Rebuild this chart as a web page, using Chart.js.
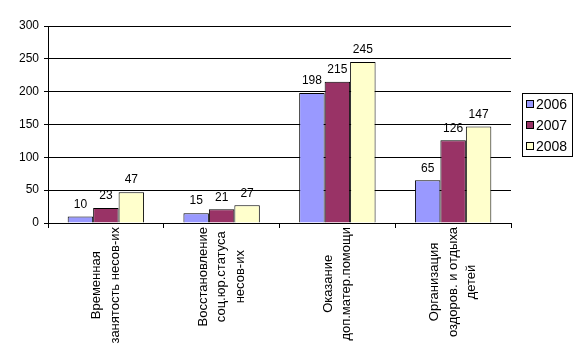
<!DOCTYPE html>
<html><head><meta charset="utf-8">
<script src="https://cdn.jsdelivr.net/npm/chart.js@4/dist/chart.umd.min.js"></script>
<style>html,body{margin:0;padding:0;background:#fff}#w{width:580px;height:362px}</style>
</head><body><div id="w"><canvas id="c" width="580" height="362"></canvas></div>
<script>
const categories = [
  ["Временная", "занятость несов-их"],
  ["Восстановление", "соц.юр.статуса", "несов-их"],
  ["Оказание", "доп.матер.помощи"],
  ["Организация", "оздоров. и отдыха", "детей"]
];
const seriesNames = ["2006", "2007", "2008"];
const values2006 = [10, 15, 198, 65];
const values2007 = [23, 21, 215, 126];
const values2008 = [47, 27, 245, 147];
const yTicks = [0, 50, 100, 150, 200, 250, 300];
const colors = ["#9999FF", "#993366", "#FFFFCC"];
const FAM = '"Liberation Sans", Arial, sans-serif';

const labelPlugin = {
  id: 'custom',
  afterDatasetsDraw(chart) {
    const ctx = chart.ctx;
    ctx.save();
    ctx.fillStyle = '#000';
    // value labels
    ctx.font = '12px ' + FAM;
    chart.data.datasets.forEach((ds, i) => {
      const meta = chart.getDatasetMeta(i);
      meta.data.forEach((bar, j) => {
        ctx.textAlign = 'center';
        ctx.textBaseline = 'bottom';
        ctx.fillText(String(ds.data[j]), bar.x, bar.y - 6);
      });
    });
    // category labels (rotated, centered lines)
    ctx.font = '13px ' + FAM;
    const xs = chart.scales.x;
    const axisY = chart.chartArea.bottom;
    const lh = 18.5;
    categories.forEach((lines, j) => {
      const cx = xs.getPixelForValue(j);
      let maxW = 0;
      lines.forEach(l => { maxW = Math.max(maxW, ctx.measureText(l).width); });
      const cy = axisY + 4 + maxW / 2;
      lines.forEach((l, k) => {
        const lx = cx + (k - (lines.length - 1) / 2) * lh;
        ctx.save();
        ctx.translate(lx, cy);
        ctx.rotate(-Math.PI / 2);
        ctx.textAlign = 'center';
        ctx.textBaseline = 'middle';
        ctx.fillText(l, 0, 0);
        ctx.restore();
      });
    });
    // legend
    ctx.font = '14px ' + FAM;
    const lx0 = 522, ly0 = 93, lw = 50, lhgt = 63;
    ctx.strokeStyle = '#000';
    ctx.lineWidth = 1;
    ctx.strokeRect(lx0 + 0.5, ly0 + 0.5, lw, lhgt);
    seriesNames.forEach((n, i) => {
      const cyy = ly0 + 11 + i * 21;
      ctx.fillStyle = colors[i];
      ctx.fillRect(526.5, cyy - 3.5, 7, 7);
      ctx.strokeStyle = '#000';
      ctx.strokeRect(526.5, cyy - 3.5, 7, 7);
      ctx.fillStyle = '#000';
      ctx.textAlign = 'left';
      ctx.textBaseline = 'middle';
      ctx.fillText(n, 536, cyy + 1);
    });
    ctx.restore();
  }
};

new Chart(document.getElementById('c'), {
  type: 'bar',
  data: {
    labels: categories.map(c => c.join(' ')),
    datasets: [values2006, values2007, values2008].map((d, i) => ({
      label: seriesNames[i],
      data: d,
      backgroundColor: colors[i],
      borderColor: '#000',
      borderWidth: 1,
      categoryPercentage: 0.66,
      barPercentage: 1.0
    }))
  },
  options: {
    responsive: false,
    animation: false,
    events: [],
    layout: { padding: { top: 26, right: 69, left: 0, bottom: 0 } },
    plugins: { legend: { display: false }, tooltip: { enabled: false } },
    scales: {
      x: {
        offset: true,
        grid: { offset: true, drawOnChartArea: false, drawTicks: true, tickLength: 5, color: '#000', lineWidth: 1 },
        border: { display: true, color: '#000', width: 1 },
        ticks: { display: false },
        afterFit(s) { s.height = 139; }
      },
      y: {
        min: 0, max: 300,
        afterBuildTicks(s) { s.ticks = yTicks.map(v => ({ value: v })); },
        grid: { color: '#000', lineWidth: 1, tickLength: 4, drawTicks: true },
        border: { display: true, color: '#000', width: 1 },
        ticks: { color: '#000', font: { family: FAM, size: 12 }, padding: 5 },
        afterFit(s) { s.width = 48; }
      }
    }
  },
  plugins: [labelPlugin]
});
</script>
</body></html>
